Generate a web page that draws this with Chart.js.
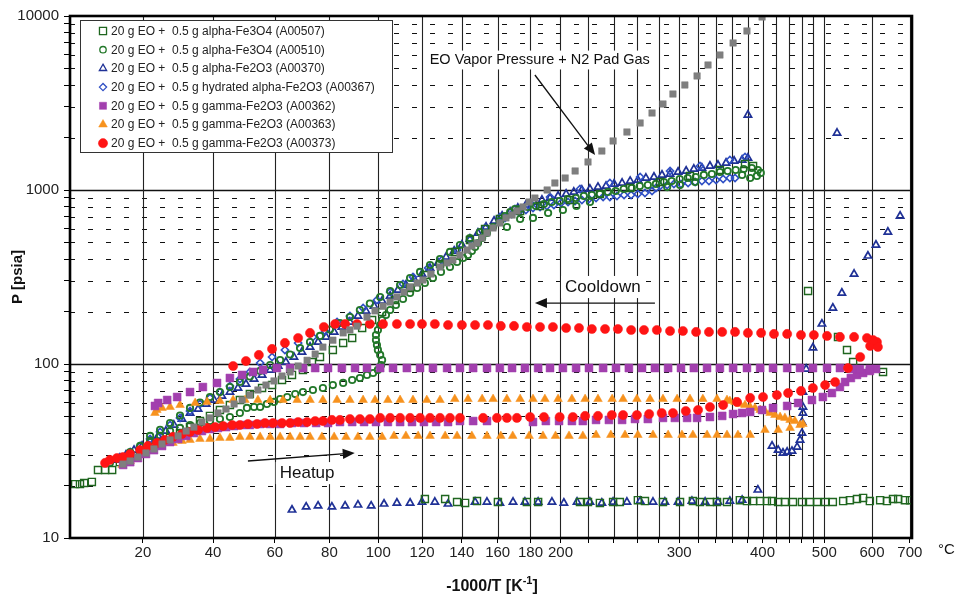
<!DOCTYPE html>
<html>
<head>
<meta charset="utf-8">
<script src="https://cdn.jsdelivr.net/npm/chart.js@4.4.0/dist/chart.umd.min.js"></script>
<style>
  html, body { margin: 0; padding: 0; background: #fff; }
</style>
</head>
<body>
<canvas id="myChart" width="956" height="595"></canvas>
<script>
// every point is [-1000/T in 1/K, P in psia]

var A00507 = [[-3.622,20.4],[-3.607,20.4],[-3.594,20.7],[-3.570,21.0],[-3.551,24.6],[-3.529,24.6],[-3.507,24.6],[-3.483,27.3],[-3.451,29.2],[-3.420,30.8],[-3.389,32.5],[-3.358,34.7],[-3.327,37.6],[-3.296,40.1],[-3.265,43.4],[-3.234,47.0],[-3.203,50.3],[-3.172,54.4],[-3.141,58.1],[-3.110,62.1],[-3.079,67.2],[-3.041,72.8],[-3.010,75.7],[-2.979,80.9],[-2.948,86.5],[-2.914,92.4],[-2.886,102.7],[-2.861,109.7],[-2.821,120.4],[-2.789,132.1],[-2.761,141.1],[-2.730,161.0],[-2.699,179.0],[-2.668,199.0],[-2.628,233.3],[-2.581,273.5],[-2.535,324.7],[-2.488,375.6],[-2.441,440.4],[-2.395,516.0],[-2.348,597.0],[-2.302,681.5],[-2.239,757.5],[-2.177,809.2],[-2.084,875.9],[-1.991,948.4],[-1.897,1027],[-1.804,1112],[-1.711,1204],[-1.618,1303],[-1.540,1411],[-1.515,1374],
  [-1.344,262.8],[-1.251,143.0],[-1.223,120.4],[-1.204,102.7],[-1.111,90.0],
  [-2.535,16.75],[-2.472,16.75],[-2.435,16.1],[-2.410,15.9],[-2.373,16.3],[-2.308,16.1],[-2.218,16.1],[-2.183,16.1],[-2.053,16.1],[-2.028,16.1],[-1.991,15.9],[-1.950,16.1],[-1.929,16.1],[-1.873,16.5],[-1.851,16.3],[-1.795,16.1],[-1.742,16.1],[-1.702,16.3],[-1.680,16.1],[-1.649,16.1],[-1.627,16.1],[-1.596,16.1],[-1.556,16.5],[-1.534,16.3],[-1.515,16.3],[-1.493,16.3],[-1.472,16.3],[-1.456,16.3],[-1.437,16.1],[-1.416,16.1],[-1.391,16.1],[-1.363,16.1],[-1.338,16.1],[-1.316,16.1],[-1.291,16.1],[-1.267,16.1],[-1.235,16.3],[-1.214,16.5],[-1.192,16.75],[-1.173,17.0],[-1.152,16.3],[-1.120,16.5],[-1.099,16.3],[-1.080,16.75],[-1.064,16.75],[-1.043,16.5],[-1.027,16.5]];

var A00510 = [[-3.514,27.0],[-3.483,28.8],[-3.451,31.2],[-3.420,33.8],[-3.389,36.1],[-3.358,38.6],[-3.327,41.2],[-3.296,42.9],[-3.265,44.6],[-3.234,45.8],[-3.203,47.0],[-3.172,48.3],[-3.141,49.6],[-3.110,52.3],[-3.088,55.9],[-3.066,56.6],[-3.047,56.6],[-3.026,58.9],[-3.004,60.5],[-2.985,62.9],[-2.963,64.6],[-2.938,67.2],[-2.914,69.0],[-2.883,70.9],[-2.852,72.8],[-2.821,75.7],[-2.789,77.8],[-2.761,80.9],[-2.737,83.1],[-2.715,86.5],[-2.696,88.8],[-2.681,92.4],[-2.671,98.7],[-2.668,105.4],[-2.674,112.7],[-2.681,120.4],[-2.684,128.6],[-2.687,137.4],[-2.687,146.8],[-2.681,156.8],[-2.674,167.5],[-2.668,179.0],[-2.656,191.2],[-2.643,204.3],[-2.625,218.3],[-2.603,236.4],[-2.581,255.9],[-2.559,273.5],[-2.535,292.1],[-2.510,312.1],[-2.485,338.0],[-2.457,361.0],[-2.435,385.6],[-2.416,406.6],[-2.401,423.0],[-2.389,446.2],[-2.379,470.5],[-2.370,496.0],[-2.357,530.0],[-2.342,566.2],[-2.323,613.0],[-2.302,663.6],[-2.286,709.1],[-2.270,747.5],[-2.255,777.7],
  [-2.240,777.7],[-2.215,798.6],[-2.190,809.2],[-2.165,830.9],[-2.141,853.1],[-2.116,864.7],[-2.091,887.7],[-2.066,899.4],[-2.041,923.8],[-2.016,935.9],[-1.991,948.4],[-1.966,973.8],[-1.942,987],[-1.917,1013],[-1.892,1027],[-1.867,1054],[-1.842,1068],[-1.817,1083],[-1.792,1112],[-1.768,1126],[-1.743,1157],[-1.718,1172],[-1.693,1188],[-1.668,1220],[-1.643,1236],[-1.618,1269],[-1.594,1286],[-1.569,1303],[-1.544,1320],[-1.519,1338],[-1.500,1303],[-1.491,1253],[-1.503,1204],[-1.524,1172],
  [-1.549,1220],[-1.695,1112],[-1.742,1068],[-1.782,1040],[-2.022,853.1],[-2.064,809.2],[-2.106,767.5],[-2.152,737.7],[-2.199,690.6],[-2.239,681.5],[-2.280,613.0],
  [-2.364,573.7],[-2.395,530],[-2.426,483.1],[-2.457,440.4],[-2.488,401.3],[-2.519,370.7],[-2.550,338.0],[-2.581,312.1],[-2.612,284.5],[-2.643,262.8],[-2.674,242.7],[-2.706,222.7],[-2.737,204.3],[-2.768,186.3],[-2.799,172.0],[-2.830,157.9],[-2.861,144.9],[-2.892,133.8],[-2.923,123.6],[-2.954,113.4],[-2.985,105.4],[-3.016,98.7],[-3.047,91.2],[-3.079,84.8],[-3.110,78.8],[-3.141,73.7],[-3.172,69.0],[-3.203,64.6],[-3.234,60.1],[-3.265,55.9],[-3.296,50.6],[-3.327,45.8],[-3.358,41.8],[-3.389,38.6]];

var A00370 = [[-3.489,28.1],[-3.464,30.0],[-3.439,32.0],[-3.414,33.8],[-3.389,36.1],[-3.364,38.6],[-3.340,41.2],[-3.315,44.6],[-3.290,48.3],[-3.265,52.3],[-3.240,55.1],[-3.215,58.9],[-3.190,62.1],[-3.166,65.5],[-3.141,69.0],[-3.116,72.8],[-3.091,76.8],[-3.066,82.0],[-3.041,86.5],[-3.016,92.4],[-2.991,97.4],[-2.967,102.7],[-2.942,109.7],[-2.917,117.2],[-2.892,125.3],[-2.867,133.8],[-2.842,143.0],[-2.817,152.8],[-2.793,163.2],[-2.768,174.3],[-2.743,188.8],[-2.718,201.6],[-2.693,215.4],[-2.668,230.2],[-2.643,246.0],[-2.619,266.2],[-2.594,284.5],[-2.569,308.0],[-2.544,329.0],[-2.519,356.2],[-2.494,380.7],[-2.469,412.0],[-2.444,446.2],[-2.420,483.1],[-2.395,523.0],[-2.370,566.2],[-2.345,613.0],[-2.320,663.6],[-2.295,709.1],[-2.270,747.5],[-2.246,788.0],[-2.221,820.0],[-2.196,853.1],[-2.171,875.9],[-2.146,899.4],[-2.121,923.8],[-2.096,948.4],[-2.072,973.8],[-2.047,1000],[-2.022,1013],[-1.997,1040],[-1.972,1054],[-1.947,1083],[-1.922,1097],[-1.897,1126],[-1.873,1141],[-1.848,1172],[-1.823,1188],[-1.798,1220],[-1.773,1236],[-1.748,1269],[-1.723,1286],[-1.699,1320],[-1.674,1338],[-1.649,1374],[-1.624,1392],[-1.599,1430],[-1.574,1468],[-1.549,1487],[-1.531,1527],
  [-1.531,2698],[-1.254,2126],
  [-1.058,709],[-1.096,574],[-1.133,483],[-1.158,418],[-1.201,329],[-1.239,256],[-1.267,210],[-1.301,170],[-1.329,124],[-1.350,93.6],[-1.360,69.0],[-1.360,56.6],[-1.360,52.3],[-1.363,46.4],[-1.363,40.1],[-1.369,36.6],[-1.378,33.3],[-1.394,31.6],[-1.409,31.2],[-1.422,30.8],[-1.437,32.0],[-1.456,33.8],[-1.500,18.9],
  [-1.549,16.5],[-1.587,16.3],[-1.624,16.1],[-1.664,16.1],[-1.705,16.3],[-1.748,16.1],[-1.789,16.1],[-1.826,16.1],[-1.866,16.3],[-1.907,16.1],[-1.950,16.1],[-1.985,15.9],[-2.022,16.1],[-2.062,16.1],[-2.103,15.9],[-2.140,16.1],[-2.183,16.1],[-2.224,16.1],[-2.261,16.1],[-2.302,15.9],[-2.342,16.1],[-2.379,16.1],[-2.463,15.7],[-2.504,16.1],[-2.544,16.1],[-2.581,15.9],[-2.622,15.9],[-2.662,15.7],[-2.702,15.3],[-2.743,15.5],[-2.783,15.3],[-2.824,15.1],[-2.867,15.3],[-2.904,15.1],[-2.948,14.5]];

var A00367 = [[-3.483,29.2],[-3.451,31.2],[-3.420,33.8],[-3.389,37.1],[-3.358,40.7],[-3.327,44.6],[-3.296,49.0],[-3.265,53.7],[-3.234,58.9],[-3.203,63.8],[-3.172,69.0],[-3.141,74.7],[-3.110,82.0],[-3.079,90.0],[-3.047,101.3],[-3.010,109.7],[-2.970,120.4],[-2.929,132.1],[-2.883,143.0],[-2.845,154.8],[-2.808,174.3],[-2.768,188.8],[-2.727,209.8],[-2.684,233.3],[-2.643,259.4],[-2.603,288.3],[-2.572,316.2],[-2.525,356.2],[-2.482,396.0],[-2.435,452.2],[-2.395,516.0],[-2.348,604.8],[-2.302,699.7],[-2.255,777.7],[-2.208,842.0],[-2.146,911.5],[-2.053,1013],[-1.960,1097],[-1.866,1188],[-1.773,1286],[-1.680,1374],[-1.587,1487],[-1.540,1547],
  [-1.571,1172],[-1.587,1172],[-1.608,1157],[-1.630,1141],[-1.652,1126],[-1.674,1126],[-1.695,1112],[-1.717,1097],[-1.739,1083],[-1.761,1083],[-1.782,1068],[-1.804,1054],[-1.817,1027],[-1.829,987],[-1.851,961.2],[-1.873,948.4],[-1.894,935.9],[-1.916,935.9],[-1.938,923.8],[-1.960,911.5],[-1.981,911.5],[-2.003,899.4],[-2.025,887.7],[-2.047,875.9],[-2.068,864.7],[-2.090,853.1],[-2.112,842.0],[-2.134,820.0],[-2.156,809.2],[-2.177,798.6],[-2.199,788.0],[-2.221,767.5],[-2.243,747.5],[-2.265,728.0],[-2.286,690.6]];

var A00362 = [[-3.473,26.3],[-3.451,27.3],[-3.427,28.8],[-3.402,30.4],[-3.377,32.0],[-3.352,33.8],[-3.327,35.6],[-3.302,37.1],[-3.277,38.6],[-3.253,40.1],[-3.228,41.2],[-3.203,42.3],[-3.178,42.9],[-3.153,43.4],[-3.128,44.0],[-3.103,44.6],[-3.079,44.6],[-3.047,45.2],[-3.016,45.2],[-2.985,45.2],[-2.948,45.8],[-2.911,45.8],[-2.873,45.8],[-2.836,45.8],[-2.799,46.4],[-2.761,46.4],[-2.724,46.4],[-2.687,46.4],[-2.650,46.4],[-2.612,46.4],[-2.575,46.4],[-2.538,46.4],[-2.500,46.4],[-2.463,46.4],[-2.426,47.0],[-2.385,47.0],[-2.342,47.0],[-2.199,46.4],[-2.159,47.0],[-2.118,47.0],[-2.078,47.0],[-2.044,47.0],[-2.003,47.7],[-1.963,47.7],[-1.922,47.7],[-1.882,48.3],[-1.842,48.3],[-1.795,49.0],[-1.758,49.0],[-1.720,49.0],[-1.689,49.0],[-1.649,49.6],[-1.611,50.3],[-1.577,51.6],[-1.549,52.3],[-1.524,53.0],[-1.487,54.4],[-1.453,55.9],[-1.409,57.4],[-1.375,59.7],[-1.332,62.1],[-1.298,64.6],[-1.270,68.1],[-1.245,73.7],[-1.229,78.8],[-1.211,83.1],[-1.192,86.5],[-1.173,88.8],[-1.152,91.2],[-1.133,93.6],
  [-1.152,93.6],[-1.183,93.6],[-1.207,93.6],[-1.245,94.8],[-1.285,94.8],[-1.329,94.8],[-1.369,94.8],[-1.409,94.8],[-1.453,94.8],[-1.493,94.8],[-1.534,94.8],[-1.577,94.8],[-1.618,94.8],[-1.658,94.8],[-1.699,94.8],[-1.739,94.8],[-1.779,94.8],[-1.820,94.8],[-1.860,94.8],[-1.901,94.8],[-1.941,94.8],[-1.981,94.8],[-2.025,94.8],[-2.065,94.8],[-2.106,94.8],[-2.146,94.8],[-2.183,94.8],[-2.224,94.8],[-2.264,94.8],[-2.302,94.8],[-2.342,94.8],[-2.385,94.8],[-2.426,94.8],[-2.466,94.8],[-2.510,94.8],[-2.550,94.8],[-2.591,94.8],[-2.634,94.8],[-2.674,94.8],[-2.715,94.8],[-2.752,94.8],[-2.793,94.8],[-2.836,94.8],[-2.876,94.8],[-2.914,94.8],[-2.954,94.8],[-2.995,94.8],[-3.038,92.4],[-3.069,90.0],[-3.103,86.5],[-3.141,83.1],[-3.181,77.8],[-3.225,73.7],[-3.265,69.0],[-3.305,64.6],[-3.336,62.1],[-3.364,59.7],[-3.374,57.4]];

var A00363 = [[-3.476,26.3],[-3.451,27.7],[-3.420,30.0],[-3.389,32.0],[-3.358,33.8],[-3.318,35.2],[-3.290,36.1],[-3.265,36.6],[-3.234,37.1],[-3.203,37.1],[-3.172,37.6],[-3.141,37.6],[-3.110,38.1],[-3.079,38.1],[-3.047,38.1],[-3.016,38.1],[-2.985,38.1],[-2.954,38.1],[-2.923,38.1],[-2.892,38.1],[-2.855,38.1],[-2.817,38.1],[-2.780,38.1],[-2.743,38.1],[-2.706,38.1],[-2.668,38.1],[-2.631,38.6],[-2.594,38.6],[-2.556,38.6],[-2.519,38.6],[-2.472,38.6],[-2.435,38.6],[-2.389,38.6],[-2.342,38.6],[-2.299,38.6],[-2.262,38.6],[-2.211,38.6],[-2.168,38.6],[-2.129,38.6],[-2.087,38.6],[-2.044,38.6],[-2.003,39.1],[-1.957,39.1],[-1.913,39.1],[-1.873,39.1],[-1.826,39.1],[-1.779,39.1],[-1.736,39.1],[-1.702,39.1],[-1.658,39.1],[-1.627,39.1],[-1.596,39.1],[-1.562,39.1],[-1.524,39.1],[-1.478,41.8],[-1.437,41.8],[-1.400,42.9],[-1.369,44.6],[-1.360,45.2],
  [-1.385,47.0],[-1.400,47.7],[-1.416,49.0],[-1.431,49.6],[-1.447,50.9],[-1.462,52.3],[-1.478,53.7],[-1.493,54.4],[-1.509,55.9],[-1.524,56.6],[-1.540,58.1],[-1.556,58.9],[-1.571,60.5],[-1.587,61.3],[-1.596,62.1],[-1.627,62.9],[-1.671,62.9],[-1.711,62.9],[-1.751,62.9],[-1.795,62.9],[-1.835,62.9],[-1.876,62.9],[-1.919,62.9],[-1.953,62.9],[-1.997,62.9],[-2.037,62.9],[-2.078,62.9],[-2.121,62.9],[-2.162,62.9],[-2.199,62.9],[-2.239,62.9],[-2.280,62.9],[-2.323,62.9],[-2.357,62.9],[-2.401,62.9],[-2.442,62.9],[-2.488,62.1],[-2.529,62.1],[-2.572,62.1],[-2.612,62.1],[-2.650,62.1],[-2.690,62.1],[-2.727,62.1],[-2.768,62.1],[-2.808,62.1],[-2.852,62.1],[-2.892,62.1],[-2.932,62.1],[-2.976,62.1],[-3.016,62.1],[-3.054,62.1],[-3.094,62.1],[-3.131,62.1],[-3.172,61.3],[-3.212,60.5],[-3.249,59.7],[-3.296,58.1],[-3.327,56.6],[-3.352,55.9],[-3.368,54.4],[-3.374,52.3]];

var A00373 = [[-3.529,27.0],[-3.514,28.1],[-3.492,28.8],[-3.473,29.2],[-3.451,30.4],[-3.420,32.0],[-3.396,33.8],[-3.368,35.2],[-3.343,36.6],[-3.318,38.1],[-3.290,39.6],[-3.265,40.7],[-3.240,41.8],[-3.212,42.9],[-3.187,43.4],[-3.162,44.0],[-3.134,44.6],[-3.110,44.6],[-3.085,45.2],[-3.057,45.2],[-3.032,45.8],[-3.007,45.8],[-2.979,45.8],[-2.954,45.8],[-2.929,46.4],[-2.901,46.4],[-2.876,47.0],[-2.852,47.0],[-2.824,47.7],[-2.799,47.7],[-2.768,48.3],[-2.737,48.3],[-2.706,48.3],[-2.674,49.0],[-2.643,49.0],[-2.612,49.0],[-2.581,49.0],[-2.550,49.0],[-2.519,49.0],[-2.488,49.0],[-2.457,49.0],[-2.426,49.0],[-2.354,49.0],[-2.311,49.0],[-2.280,49.0],[-2.249,49.0],[-2.208,49.6],[-2.165,49.6],[-2.116,49.6],[-2.075,49.6],[-2.037,50.3],[-1.997,50.3],[-1.954,50.9],[-1.919,50.9],[-1.876,50.9],[-1.838,51.6],[-1.799,52.3],[-1.764,52.3],[-1.724,53.7],[-1.686,54.4],[-1.649,56.6],[-1.608,58.1],[-1.565,60.5],[-1.524,63.8],[-1.484,64.6],[-1.441,66.3],[-1.406,68.1],[-1.366,70.0],[-1.329,72.8],[-1.291,75.7],[-1.260,78.8],[-1.220,94.8],[-1.182,109.7],[-1.151,126.9],[-1.130,133.8],[-1.127,125.3],[-1.142,137.4],
  [-1.161,141.1],[-1.201,143.0],[-1.245,143.0],[-1.285,144.9],[-1.326,146.8],[-1.366,146.8],[-1.409,148.8],[-1.450,148.8],[-1.490,150.8],[-1.531,150.8],[-1.571,152.8],[-1.611,152.8],[-1.652,152.8],[-1.692,152.8],[-1.733,154.8],[-1.773,154.8],[-1.814,156.8],[-1.854,156.8],[-1.894,156.8],[-1.935,158.9],[-1.975,158.9],[-2.016,158.9],[-2.056,161.0],[-2.096,161.0],[-2.137,163.2],[-2.177,163.2],[-2.218,163.2],[-2.258,165.4],[-2.299,165.4],[-2.339,167.5],[-2.379,167.5],[-2.420,167.5],[-2.463,167.5],[-2.504,169.8],[-2.544,169.8],[-2.581,169.8],[-2.622,169.8],[-2.665,169.8],[-2.706,169.8],[-2.746,169.8],[-2.783,169.8],[-2.814,169.8],[-2.849,163.2],[-2.892,150.8],[-2.929,141.1],[-2.970,132.1],[-3.010,122.0],[-3.051,112.7],[-3.091,104.0],[-3.131,97.4]];

// EO vapour pressure + N2 pad gas (not in the legend)
var EO_N2 = [[-3.473,26.6],[-3.451,27.7],[-3.427,29.2],[-3.402,30.8],[-3.377,32.5],[-3.352,34.7],[-3.327,36.6],[-3.302,38.6],[-3.277,41.2],[-3.253,43.4],[-3.228,46.4],[-3.203,49.0],[-3.178,52.3],[-3.153,55.1],[-3.128,58.9],[-3.103,62.1],[-3.079,66.3],[-3.054,70.9],[-3.029,75.7],[-3.004,79.9],[-2.979,85.3],[-2.954,90.0],[-2.929,97.4],[-2.901,105],[-2.876,114],[-2.852,125],[-2.821,137],[-2.789,151],[-2.768,157],[-2.746,165],[-2.715,186],[-2.690,202],[-2.665,215],[-2.643,227],[-2.622,243],[-2.600,259],[-2.581,277],[-2.559,292],[-2.541,304],[-2.516,329],[-2.488,361],[-2.466,381],[-2.448,396],[-2.426,423],[-2.404,452],[-2.389,477],[-2.373,496],[-2.357,530],[-2.342,566],[-2.323,605],[-2.302,646],[-2.283,691],[-2.264,718],[-2.249,758],[-2.230,799],[-2.211,853],[-2.193,899],[-2.155,1000],[-2.131,1097],[-2.099,1172],[-2.068,1286],[-2.028,1449],[-1.985,1675],[-1.950,1913],[-1.907,2154],[-1.866,2427],[-1.829,2770],[-1.795,3121],[-1.764,3562],[-1.727,4013],[-1.689,4522],[-1.655,5228],[-1.618,5969],[-1.577,6997],[-1.534,8200],[-1.487,9869]];

var seriesNames = ['20 g EO +  0.5 g alpha-Fe3O4 (A00507)', '20 g EO +  0.5 g alpha-Fe3O4 (A00510)', '20 g EO +  0.5 g alpha-Fe2O3 (A00370)', '20 g EO +  0.5 g hydrated alpha-Fe2O3 (A00367)', '20 g EO +  0.5 g gamma-Fe2O3 (A00362)', '20 g EO +  0.5 g gamma-Fe2O3 (A00363)', '20 g EO +  0.5 g gamma-Fe2O3 (A00373)'];

// temperature grid lines (deg C) and the ones that get a label
var tempTicks = [20,40,60,80,100,120,140,160,180,200,220,240,260,280,300,320,340,360,380,400,420,440,460,480,500,600,700];
var tempLabels = [20,40,60,80,100,120,140,160,180,200,300,400,500,600,700];
var pressTicks = [10,20,30,40,50,60,70,80,90,100,200,300,400,500,600,700,800,900,1000,2000,3000,4000,5000,6000,7000,8000,9000,10000];

function invT(c) { return -1000 / (c + 273.15); }
function isDecade(v) { return Math.abs(Math.log10(v) - Math.round(Math.log10(v))) < 1e-9; }
function pts(arr) { return arr.map(function(p){ return {x: p[0], y: p[1]}; }); }

var FONT = "'Liberation Sans', Arial, sans-serif";
Chart.defaults.font.family = FONT;
Chart.defaults.color = '#222';

function makeSet(label, data, style, radius, color, filled, order, bw) {
    return {
        label: label,
        data: pts(data),
        pointStyle: style,
        pointRadius: radius,
        pointHoverRadius: radius,
        borderColor: color,
        backgroundColor: filled ? color : 'rgba(0,0,0,0)',
        pointBorderWidth: bw,
        showLine: false,
        order: order,
        inLegend: label !== null
    };
}

var datasets = [
    makeSet(seriesNames[0], A00507, 'rect', 5, '#1f661f', false, 5, 1.4),
    makeSet(seriesNames[1], A00510, 'circle', 3.2, '#23782a', false, 6, 1.8),
    makeSet(seriesNames[2], A00370, 'triangle', 4.2, '#1f3196', false, 8, 1.7),
    makeSet(seriesNames[3], A00367, 'rectRot', 3.6, '#2f4fc4', false, 7, 1.6),
    makeSet(seriesNames[4], A00362, 'rect', 5.6, '#a23fae', true, 3, 0.5),
    makeSet(seriesNames[5], A00363, 'triangle', 5, '#f7921e', true, 4, 0.5),
    makeSet(seriesNames[6], A00373, 'circle', 4.6, '#ff1414', true, 2, 0.5),
    makeSet(null, EO_N2, 'rect', 4.6, '#7f7f7f', true, 1, 0.5)
];

var notes = [
    {text: 'EO Vapor Pressure + N2 Pad Gas', size: 14.5, at: [-2.178, 5586], from: [-2.193, 4580], to: [-2.006, 1589]},
    {text: 'Cooldown', size: 17, at: [-1.982, 277], from: [-1.820, 224], to: [-2.193, 224]},
    {text: 'Heatup', size: 17, at: [-2.901, 23.6], from: [-3.085, 27.7], to: [-2.753, 30.8]}
];

function arrow(ctx, x1, y1, x2, y2, head) {
    var ang = Math.atan2(y2 - y1, x2 - x1);
    var c = Math.cos(ang), s = Math.sin(ang);
    ctx.beginPath();
    ctx.moveTo(x1, y1);
    ctx.lineTo(x2 - c * head * 0.8, y2 - s * head * 0.8);
    ctx.stroke();
    ctx.beginPath();
    ctx.moveTo(x2, y2);
    ctx.lineTo(x2 - head * c + head * 0.42 * s, y2 - head * s - head * 0.42 * c);
    ctx.lineTo(x2 - head * c - head * 0.42 * s, y2 - head * s + head * 0.42 * c);
    ctx.closePath();
    ctx.fill();
}

var paperPlugin = {
    id: 'paper',
    beforeDatasetsDraw: function(chart) {
        var ctx = chart.ctx, a = chart.chartArea, xs = chart.scales.x, ys = chart.scales.y;
        ctx.save();
        ctx.strokeStyle = '#111';
        pressTicks.forEach(function(v) {
            if (v <= 10 || v >= 10000) return;
            var y = Math.round(ys.getPixelForValue(v)) + 0.5;
            var major = isDecade(v);
            ctx.lineWidth = major ? 1.4 : 1;
            ctx.setLineDash(major ? [] : [5, 13]);
            ctx.beginPath(); ctx.moveTo(a.left, y); ctx.lineTo(a.right, y); ctx.stroke();
        });
        ctx.setLineDash([]);
        ctx.lineWidth = 1.1;
        ctx.strokeStyle = '#222';
        tempTicks.forEach(function(t) {
            var x = Math.round(xs.getPixelForValue(invT(t))) + 0.5;
            if (x >= a.right - 1) return;
            ctx.beginPath(); ctx.moveTo(x, a.top); ctx.lineTo(x, a.bottom); ctx.stroke();
        });
        // white patches behind the annotation texts
        ctx.fillStyle = '#fff';
        ctx.textAlign = 'center'; ctx.textBaseline = 'middle';
        notes.forEach(function(n) {
            ctx.font = n.size + 'px ' + FONT;
            var w = ctx.measureText(n.text).width;
            var cx = xs.getPixelForValue(n.at[0]), cy = ys.getPixelForValue(n.at[1]);
            ctx.fillRect(cx - w / 2 - 4, cy - n.size * 0.65, w + 8, n.size * 1.3);
        });
        ctx.restore();
    },
    afterDatasetsDraw: function(chart) {
        var ctx = chart.ctx, a = chart.chartArea, xs = chart.scales.x, ys = chart.scales.y;
        ctx.save();
        // annotations
        ctx.fillStyle = '#111'; ctx.strokeStyle = '#111'; ctx.lineWidth = 1.3;
        ctx.textAlign = 'center'; ctx.textBaseline = 'middle';
        notes.forEach(function(n) {
            ctx.font = n.size + 'px ' + FONT;
            ctx.fillText(n.text, xs.getPixelForValue(n.at[0]), ys.getPixelForValue(n.at[1]));
            arrow(ctx, xs.getPixelForValue(n.from[0]), ys.getPixelForValue(n.from[1]),
                  xs.getPixelForValue(n.to[0]), ys.getPixelForValue(n.to[1]), 12);
        });
        // legend box
        var bx = a.left + 10, by = a.top + 4, bw = 312, bh = 132;
        ctx.fillStyle = '#fff';
        ctx.fillRect(bx, by, bw, bh);
        ctx.strokeStyle = '#333'; ctx.lineWidth = 1;
        ctx.strokeRect(bx + 0.5, by + 0.5, bw, bh);
        ctx.font = '12px ' + FONT;
        ctx.textAlign = 'left';
        var row = 0;
        chart.data.datasets.forEach(function(ds) {
            if (!ds.inLegend) return;
            var yy = by + 11 + row * 18.7;
            ctx.fillStyle = ds.backgroundColor;
            ctx.strokeStyle = ds.borderColor;
            ctx.lineWidth = Math.min(ds.pointBorderWidth, 1.3);
            Chart.helpers.drawPoint(ctx, {pointStyle: ds.pointStyle, rotation: 0, radius: Math.min(ds.pointRadius, 5), borderWidth: ds.pointBorderWidth}, bx + 23, yy);
            ctx.fillStyle = '#222';
            ctx.fillText(ds.label, bx + 31, yy + 0.5);
            row++;
        });
        ctx.restore();
    },
    afterDraw: function(chart) {
        var ctx = chart.ctx, a = chart.chartArea;
        ctx.save();
        ctx.strokeStyle = '#000'; ctx.lineWidth = 2.6;
        ctx.strokeRect(a.left, a.top, a.right - a.left, a.bottom - a.top);
        ctx.fillStyle = '#111';
        // y title
        ctx.save();
        ctx.translate(18, (a.top + a.bottom) / 2);
        ctx.rotate(-Math.PI / 2);
        ctx.font = 'bold 15px ' + FONT;
        ctx.textAlign = 'center'; ctx.textBaseline = 'middle';
        ctx.fillText('P [psia]', 0, 0);
        ctx.restore();
        // x title with superscript
        var main = '-1000/T [K', sup = '-1', end = ']';
        ctx.font = 'bold 16px ' + FONT;
        var w1 = ctx.measureText(main).width, w3 = ctx.measureText(end).width;
        ctx.font = 'bold 11px ' + FONT;
        var w2 = ctx.measureText(sup).width;
        var x0 = 492 - (w1 + w2 + w3) / 2, base = 591;
        ctx.textAlign = 'left'; ctx.textBaseline = 'alphabetic';
        ctx.font = 'bold 16px ' + FONT;
        ctx.fillText(main, x0, base);
        ctx.font = 'bold 11px ' + FONT;
        ctx.fillText(sup, x0 + w1, base - 7);
        ctx.font = 'bold 16px ' + FONT;
        ctx.fillText(end, x0 + w1 + w2, base);
        // unit on the temperature scale
        ctx.font = '15px ' + FONT;
        ctx.textBaseline = 'middle';
        ctx.fillText('\u00B0C', a.right + 26, 550);
        ctx.restore();
    }
};

new Chart(document.getElementById('myChart'), {
    type: 'scatter',
    data: { datasets: datasets },
    options: {
        responsive: false,
        animation: false,
        devicePixelRatio: 1,
        layout: { padding: { top: 16, right: 44, left: 0, bottom: 0 } },
        plugins: { legend: { display: false }, tooltip: { enabled: false } },
        scales: {
            x: {
                type: 'linear',
                min: -3.638,
                max: -1.021,
                afterBuildTicks: function(scale) {
                    scale.ticks = tempTicks.map(function(t) { return {value: invT(t)}; });
                },
                afterFit: function(scale) { scale.height = 57; },
                ticks: {
                    autoSkip: false, maxRotation: 0, padding: 1,
                    font: { size: 15 }, color: '#222',
                    callback: function(value, index) {
                        var t = tempTicks[index];
                        return tempLabels.indexOf(t) >= 0 ? String(t) : '';
                    }
                },
                grid: { drawOnChartArea: false, drawTicks: true, tickLength: 5, tickColor: '#000', tickWidth: 1 },
                border: { display: false }
            },
            y: {
                type: 'logarithmic',
                min: 10,
                max: 10000,
                afterBuildTicks: function(scale) {
                    scale.ticks = pressTicks.map(function(v) { return {value: v}; });
                },
                afterFit: function(scale) { scale.width = 70; },
                ticks: {
                    autoSkip: false, padding: 5,
                    font: { size: 15 }, color: '#222',
                    callback: function(value) { return isDecade(value) ? String(value) : ''; }
                },
                grid: { drawOnChartArea: false, drawTicks: true, tickLength: 6, tickColor: '#000', tickWidth: 1 },
                border: { display: false }
            }
        }
    },
    plugins: [paperPlugin]
});
</script>
</body>
</html>
